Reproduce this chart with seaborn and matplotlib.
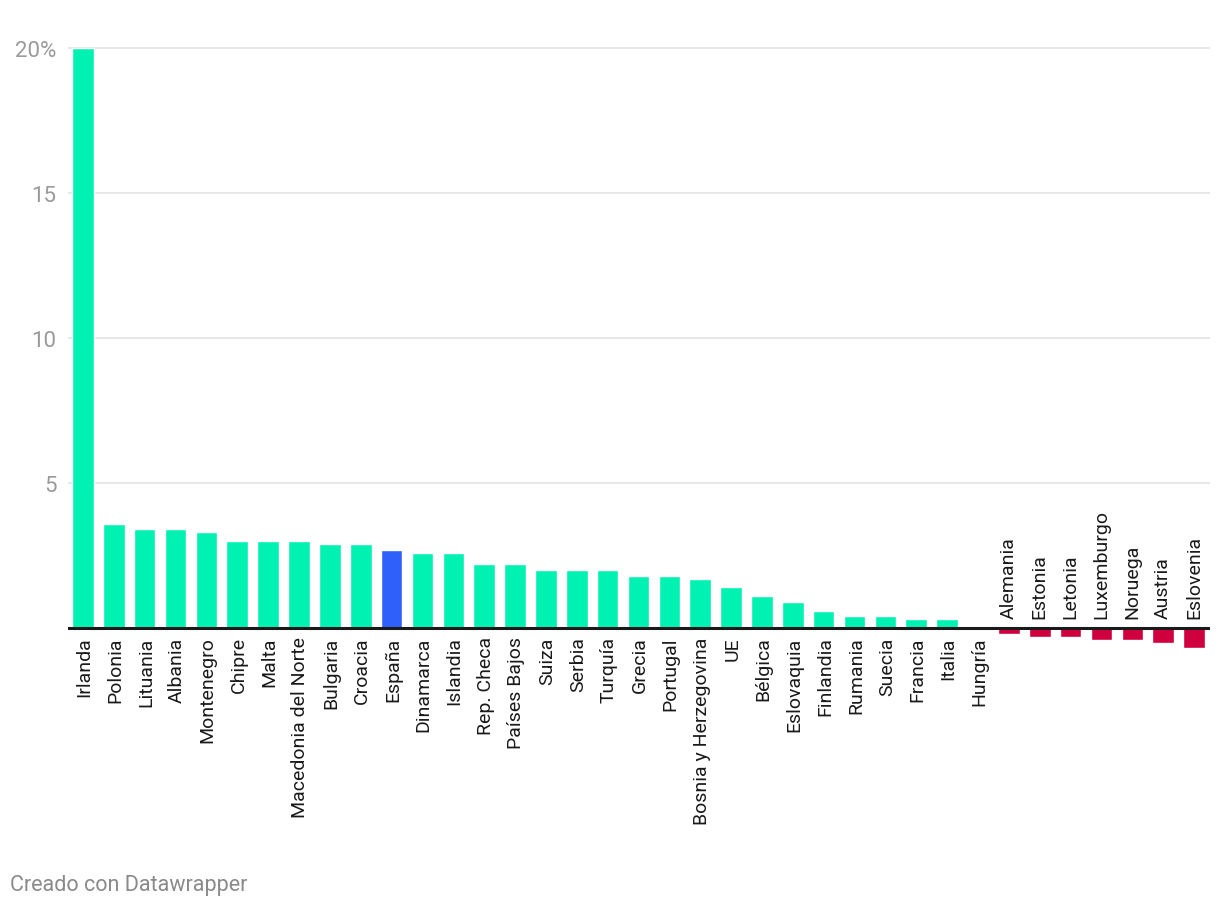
import matplotlib
matplotlib.use("Agg")
import matplotlib.pyplot as plt
import seaborn as sns
import pandas as pd

countries = ["Irlanda", "Polonia", "Lituania", "Albania", "Montenegro", "Chipre", "Malta",
             "Macedonia del Norte", "Bulgaria", "Croacia", "España", "Dinamarca", "Islandia",
             "Rep. Checa", "Países Bajos", "Suiza", "Serbia", "Turquía", "Grecia", "Portugal",
             "Bosnia y Herzegovina", "UE", "Bélgica", "Eslovaquia", "Finlandia", "Rumania",
             "Suecia", "Francia", "Italia", "Hungría", "Alemania", "Estonia", "Letonia",
             "Luxemburgo", "Noruega", "Austria", "Eslovenia"]
values = [20.0, 3.6, 3.4, 3.4, 3.3, 3.0, 3.0, 3.0, 2.9, 2.9, 2.7, 2.6, 2.6,
          2.2, 2.2, 2.0, 2.0, 2.0, 1.8, 1.8, 1.7, 1.4, 1.1, 0.9, 0.6, 0.4,
          0.4, 0.3, 0.3, 0.0, -0.2, -0.3, -0.3, -0.4, -0.4, -0.5, -0.7]
yticks = [5, 10, 15, 20]
ytick_labels = ["5", "10", "15", "20%"]

df = pd.DataFrame({"country": countries, "value": values})
df["group"] = ["spain" if c == "España" else ("neg" if v < 0 else "pos")
               for c, v in zip(df["country"], df["value"])]
palette = {"pos": "#00F2B2", "spain": "#3060FA", "neg": "#D0003F"}

sns.set_style("white")
plt.rcParams["font.family"] = ["Roboto", "DejaVu Sans"]

W, H = 1220, 912
fig = plt.figure(figsize=(W / 100, H / 100), dpi=100)
# axes placed so 0 sits near y=627px and 20 near y=47px
ymin, ymax = -0.8, 20.2
px_per = 29.0
zero_px = 629
top_px = zero_px - ymax * px_per
bot_px = zero_px - ymin * px_per
ax = fig.add_axes([67.5 / W, 1 - bot_px / H, (1209.5 - 67.5) / W, (bot_px - top_px) / H])

sns.barplot(data=df, x="country", y="value", hue="group", palette=palette,
            dodge=False, width=0.7, legend=False, saturation=1, ax=ax)

ax.set_xlim(-0.5, len(countries) - 0.5)
ax.set_ylim(ymin, ymax)
ax.set_yticks(yticks)
ax.set_yticklabels(ytick_labels)
ax.tick_params(axis="y", length=0, pad=8, labelsize=16, labelcolor="#9a9a9a")
ax.set_xticks([])
ax.set_xlabel("")
ax.set_ylabel("")
for s in ax.spines.values():
    s.set_visible(False)
ax.grid(axis="y", color="#e3e3e3", linewidth=1.2)
ax.set_axisbelow(True)
ax.axhline(0, color="#1a1a1a", linewidth=2.2, zorder=5)

for i, (c, v) in enumerate(zip(countries, values)):
    if v < 0:
        ax.annotate(c, xy=(i, 0), xytext=(0, 7), textcoords="offset points",
                    rotation=90, ha="center", va="bottom", fontsize=14, color="#1a1a1a")
    else:
        ax.annotate(c, xy=(i, 0), xytext=(1, -6), textcoords="offset points",
                    rotation=90, ha="center", va="top", fontsize=14, color="#1a1a1a")

fig.text(10 / W, 1 - 886 / H, "Creado con Datawrapper", fontsize=15.5, color="#8a8a8a",
         ha="left", va="center")

fig.savefig("out.png", dpi=100)
